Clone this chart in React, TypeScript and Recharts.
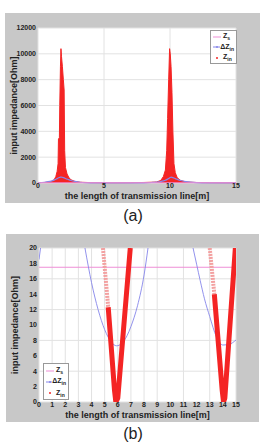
import { ComposedChart, Line, Area, XAxis, YAxis, CartesianGrid } from 'recharts';

const RED = '#f42424';
const PALE_RED = '#f3a0a0';
const BLUE = '#8686ea';
const PINK = '#ee8fd6';
const FRAME = '#c8c8c8';
const FONT = '"Liberation Sans", Arial, sans-serif';

// (a) full range
const xA = [0, 0.5, 0.9, 1.1, 1.25, 1.35, 1.45, 1.52, 1.55, 1.62, 1.65, 1.7, 1.74, 1.78, 1.85, 1.92, 1.98, 2.02, 2.08, 2.2,
  2.35, 2.5, 2.8, 3.2, 4, 5, 6, 7, 8, 8.6, 9.0, 9.3, 9.5, 9.65, 9.75, 9.82, 9.9, 9.97, 10.02, 10.08,
  10.15, 10.22, 10.3, 10.4, 10.55, 10.8, 11.2, 12, 13, 14, 15];
const zinA = [30, 40, 80, 150, 300, 500, 900, 1500, 3400, 3500, 6000, 9000, 10400, 9800, 9000, 8000, 7200, 2500, 1200, 700,
  400, 250, 120, 60, 30, 20, 20, 25, 40, 60, 80, 200, 500, 1000, 2500, 5000, 8000, 10400, 10000, 9000,
  7000, 4000, 1500, 800, 400, 200, 80, 40, 25, 20, 20];
const dzA = [20, 60, 120, 180, 240, 290, 340, 380, 400, 430, 440, 450, 455, 455, 440, 420, 400, 380, 350, 300,
  240, 190, 120, 60, 16, 9, 7.3, 10, 17, 40, 70, 110, 160, 210, 260, 300, 350, 400, 430, 450,
  440, 420, 390, 340, 280, 190, 100, 30, 11, 7.3, 8];
const zsX = [0, 15];
const zsY = [17.5, 17.5];
const yTicksA = [0, 2000, 4000, 6000, 8000, 10000, 12000];
const xTicksA = [0, 5, 10, 15];

// (b) zoom 0..20 Ohm, null = gap
const dzBx = [0, 0.12, 0.2, 3.5, 4, 4.5, 5, 5.5, 5.9, 6.3, 6.7, 7, 7.5, 8, 8.3, 8.4, 11.73, 12, 12.27, 12.6, 13, 13.5, 14, 14.5, 15];
const dzBy = [18.5, 20, null, 20, 15.5, 12, 9.4, 7.8, 7.3, 7.6, 8.6, 9.8, 12.5, 16.5, 20, null, 20, 17.9, 15.8, 13.4, 11.1, 8.5, 7.4, 7.5, 8.05];
const zinBx = [5.27, 5.75, 5.85, 6.0, 6.95, 7.2, 13.35, 13.95, 14.05, 14.15, 14.95];
const zinBy = [12.3, 1.5, 0, 0.5, 20, null, 14, 1.5, 0, 0.5, 20];
const zinPaleX = [4.87, 5.27, 6, 13.0, 13.35];
const zinPaleY = [20, 12.3, null, 20, 14];
const yTicksB = [0, 2, 4, 6, 8, 10, 12, 14, 16, 18, 20];
const xTicksB = [0, 1, 2, 3, 4, 5, 6, 7, 8, 9, 10, 11, 12, 13, 14, 15];

const zip = (xs: number[], ys: (number | null)[]) => xs.map((x, i) => ({ x, y: ys[i] }));

const dataA = xA.map((x, i) => ({ x, zin: zinA[i], dz: dzA[i] }));
const zsData = zip(zsX, zsY);

const tick = { fontSize: 7, fontWeight: 'bold', fill: '#222', fontFamily: FONT };
const axisLabel = { fontSize: 9, fontWeight: 'bold', fill: '#222', fontFamily: FONT };

function Z({ sub, delta }: { sub: string; delta?: boolean }) {
  return (
    <span>
      {delta ? 'Δ' : ''}Z<sub style={{ fontSize: 5 }}>{sub}</sub>
    </span>
  );
}

function LegendBox({ left, top, width, height }: { left: number; top: number; width: number; height: number }) {
  const row = { display: 'flex', alignItems: 'center', height: height / 3 - 1 } as const;
  return (
    <div style={{
      position: 'absolute', left, top, width, height, background: '#fff', border: '1px solid #999',
      boxSizing: 'border-box', fontFamily: FONT, fontSize: 7, fontWeight: 'bold', color: '#222', padding: '1px 2px',
    }}>
      <div style={row}>
        <svg width={8} height={4}><line x1={0} y1={2} x2={8} y2={2} stroke={PINK} strokeWidth={1} /></svg>
        <span style={{ marginLeft: 2 }}><Z sub="s" /></span>
      </div>
      <div style={row}>
        <svg width={8} height={4}><line x1={0} y1={2} x2={8} y2={2} stroke={BLUE} strokeWidth={1} /><circle cx={4} cy={2} r={1} fill={BLUE} /></svg>
        <span><Z sub="in" delta /></span>
      </div>
      <div style={row}>
        <svg width={8} height={4}><circle cx={4} cy={2} r={1} fill={RED} /></svg>
        <span style={{ marginLeft: 2 }}><Z sub="in" /></span>
      </div>
    </div>
  );
}

function ChartA() {
  return (
    <div style={{ position: 'absolute', left: 5, top: 13, width: 255, height: 190, background: FRAME }}>
      <ComposedChart width={255} height={190} data={dataA} margin={{ top: 15, right: 24, bottom: 0, left: 0 }}>
        <CartesianGrid fill="#fff" stroke="#e2e2e2" />
        <XAxis dataKey="x" type="number" domain={[0, 15]} ticks={xTicksA} axisLine={false} tickLine={false}
          tickSize={0} tickMargin={0} height={20} tick={tick}
          label={{ value: 'the length of transmission line[m]', position: 'insideBottom', offset: 4, style: axisLabel }} />
        <YAxis type="number" domain={[0, 12000]} ticks={yTicksA} axisLine={false} tickLine={false}
          tickSize={0} tickMargin={2} width={33} tick={tick}
          label={{ value: 'input impedance[Ohm]', angle: -90, position: 'insideLeft', offset: 9, style: { ...axisLabel, textAnchor: 'middle' } }} />
        <Area dataKey="zin" type="linear" stroke={RED} strokeWidth={1} fill={RED} fillOpacity={1} isAnimationActive={false} dot={false} activeDot={false} />
        <Line dataKey="dz" type="monotone" stroke={BLUE} strokeWidth={1.2} dot={false} isAnimationActive={false} />
        <Line data={zsData} dataKey="y" type="linear" stroke={PINK} strokeWidth={1} dot={false} isAnimationActive={false} />
      </ComposedChart>
      <LegendBox left={205} top={17} width={27} height={34} />
    </div>
  );
}

function ChartB() {
  return (
    <div style={{ position: 'absolute', left: 6, top: 234, width: 253, height: 188, background: FRAME }}>
      <ComposedChart width={253} height={188} margin={{ top: 14, right: 23, bottom: 0, left: 0 }}>
        <CartesianGrid fill="#fff" stroke="#e2e2e2" />
        <XAxis dataKey="x" type="number" domain={[0, 15]} ticks={xTicksB} axisLine={false} tickLine={false}
          tickSize={0} tickMargin={0} height={20} tick={tick} allowDataOverflow
          label={{ value: 'the length of transmission line[m]', position: 'insideBottom', offset: 4, style: axisLabel }} />
        <YAxis type="number" domain={[0, 20]} ticks={yTicksB} axisLine={false} tickLine={false}
          tickSize={0} tickMargin={2} width={33} tick={tick} allowDataOverflow
          label={{ value: 'input impedance[Ohm]', angle: -90, position: 'insideLeft', offset: 9, style: { ...axisLabel, textAnchor: 'middle' } }} />
        <Line data={zsData} dataKey="y" type="linear" stroke={PINK} strokeWidth={1} dot={false} isAnimationActive={false} />
        <Line data={zip(dzBx, dzBy)} dataKey="y" type="monotone" stroke={BLUE} strokeWidth={0.9} dot={false} isAnimationActive={false} />
        <Line data={zip(zinPaleX, zinPaleY)} dataKey="y" type="linear" stroke={PALE_RED} strokeWidth={4} strokeDasharray="2 1" dot={false} isAnimationActive={false} />
        <Line data={zip(zinBx, zinBy)} dataKey="y" type="linear" stroke={RED} strokeWidth={5} strokeLinejoin="round" dot={false} isAnimationActive={false} />
      </ComposedChart>
      <LegendBox left={37} top={129} width={26} height={37} />
    </div>
  );
}

export default function App() {
  const caption = { position: 'absolute', left: 0, width: 266, textAlign: 'center', fontFamily: FONT, fontSize: 16, color: '#222', lineHeight: '20px' } as const;
  return (
    <div style={{ position: 'absolute', left: 0, top: 0, width: 270, height: 445, background: '#fff' }}>
      <ChartA />
      <div style={{ ...caption, top: 206 }}>(a)</div>
      <ChartB />
      <div style={{ ...caption, top: 424 }}>(b)</div>
    </div>
  );
}
